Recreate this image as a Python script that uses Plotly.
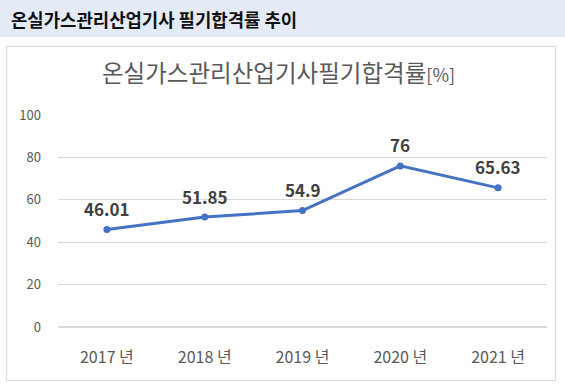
import plotly.graph_objects as go

years = ["2017 년", "2018 년", "2019 년", "2020 년", "2021 년"]
rates = [46.01, 51.85, 54.9, 76, 65.63]
rate_labels = ["46.01", "51.85", "54.9", "76", "65.63"]
y_ticks = [0, 20, 40, 60, 80, 100]

W, H = 565, 387
L, R, T, B = 58, 18, 115, 60
pw = W - L - R
ph = H - T - B

def px(x):
    return (x - L) / pw

def py(y):
    return (H - B - y) / ph

font = "Noto Sans CJK KR, Malgun Gothic, sans-serif"

fig = go.Figure()
fig.add_trace(go.Scatter(
    x=years, y=rates, mode="lines+markers",
    line=dict(color="#4472C4", width=3),
    marker=dict(size=7, color="#4472C4"),
    cliponaxis=False, hoverinfo="skip", showlegend=False,
))

annotations = [
    dict(text="<b>%s</b>" % lab, x=xv, y=yv, xref="x", yref="y", showarrow=False,
         yshift=21, font=dict(size=17, color="#404040", family=font))
    for xv, yv, lab in zip(years, rates, rate_labels)
]
annotations += [
    dict(text="<b>온실가스관리산업기사 필기합격률 추이</b>", xref="paper", yref="paper",
         x=px(9), y=py(19), xanchor="left", yanchor="middle", showarrow=False,
         font=dict(size=17.8, color="#111111", family=font)),
    dict(text="온실가스관리산업기사필기합격률<span style='font-size:18px'>[%]</span>",
         xref="paper", yref="paper", x=px(278), y=py(72), xanchor="center", yanchor="middle",
         showarrow=False, font=dict(size=23.5, color="#595959", family=font)),
]

fig.update_layout(
    width=W, height=H,
    margin=dict(l=L, r=R, t=T, b=B),
    paper_bgcolor="white", plot_bgcolor="white",
    font=dict(family=font, color="#595959"),
    xaxis=dict(range=[-0.5, 4.5], showgrid=False, zeroline=False, showline=False,
               ticks="", tickfont=dict(size=16, color="#595959"), ticklabelstandoff=19),
    yaxis=dict(range=[0, 100], tickvals=y_ticks, showgrid=True, gridcolor="#D9D9D9",
               gridwidth=1, zeroline=True, zerolinecolor="#D9D9D9", showline=False,
               ticks="", tickfont=dict(size=13, color="#595959"), ticklabelstandoff=16),
    shapes=[
        dict(type="rect", xref="paper", yref="paper", x0=px(0), x1=px(W), y0=py(37), y1=py(0),
             fillcolor="#E4EBF7", line=dict(width=0), layer="below"),
        dict(type="rect", xref="paper", yref="paper", x0=px(6.5), x1=px(555.5), y0=py(380.5), y1=py(46.5),
             fillcolor="rgba(0,0,0,0)", line=dict(color="#D9D9D9", width=1), layer="below"),
    ],
    annotations=annotations,
)

fig.write_html("out.html", config={"displayModeBar": False},
               post_script="document.body.style.margin='0';document.body.style.overflow='hidden';")
